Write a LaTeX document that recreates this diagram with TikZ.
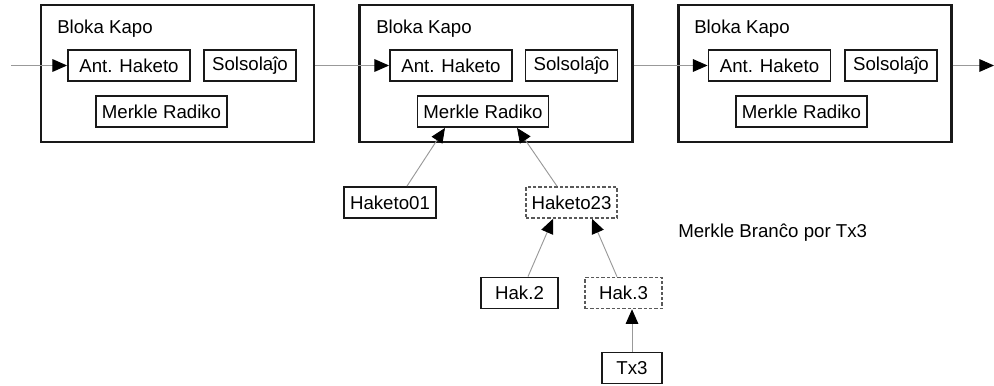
\documentclass[tikz,border=0pt]{standalone}
\usepackage{fontspec}
\setmainfont{Liberation Sans}
\usetikzlibrary{arrows.meta,calc}
\begin{document}
\begin{tikzpicture}[x=0.75pt,y=-0.75pt,
  font=\fontsize{14}{16}\selectfont,
  outer/.style={draw=black!90,line width=1.6pt,inner sep=0pt,minimum width=273*0.75pt,minimum height=137*0.75pt},
  inner/.style={draw=black!90,line width=1.4pt,inner sep=0pt,minimum height=31*0.75pt},
  dbox/.style={draw=black!65,dashed,dash pattern=on 2.5pt off 1.5pt,line width=1.2pt,inner sep=0pt,minimum height=31*0.75pt},
  ttl/.style={anchor=west,inner sep=0pt},
  conn/.style={draw=black!40,line width=0.7pt,-{Triangle[length=11pt,width=9.5pt,color=black]}},
  plain/.style={draw=black!40,line width=0.6pt}]
\useasboundingbox (0,0) rectangle (994,385);
% blocks
\node[outer] (b1) at (177.5,73.5) {};
\node[outer] (b2) at (496,73.5) {};
\node[outer] (b3) at (815,73.5) {};
\node[ttl] (t1) at (57,29) {Bloka Kapo};
\node[ttl] (t2) at (376,29) {Bloka Kapo};
\node[ttl] (t3) at (694,29) {Bloka Kapo};
% inner boxes
\node[inner,minimum width=122*0.75pt] (a1) at (129,65.5) {Ant. Haketo};
\node[inner,minimum width=92*0.75pt] (s1) at (250,65.5) {Solsolaĵo};
\node[inner,minimum width=131*0.75pt] (m1) at (161.5,111.5) {Merkle Radiko};
\node[inner,minimum width=122*0.75pt] (a2) at (451,65.5) {Ant. Haketo};
\node[inner,minimum width=92*0.75pt] (s2) at (571.5,65.5) {Solsolaĵo};
\node[inner,minimum width=131*0.75pt] (m2) at (483,111.5) {Merkle Radiko};
\node[inner,minimum width=122*0.75pt] (a3) at (769.5,65.5) {Ant. Haketo};
\node[inner,minimum width=92*0.75pt] (s3) at (891,65.5) {Solsolaĵo};
\node[inner,minimum width=131*0.75pt] (m3) at (801.5,111.5) {Merkle Radiko};
% tree
\node[inner,minimum width=92*0.75pt] (h01) at (390,202.5) {Haketo01};
\node[dbox,minimum width=91*0.75pt] (h23) at (571.5,202.5) {Haketo23};
\node[inner,minimum width=77*0.75pt] (k2) at (519.5,293) {Hak.2};
\node[dbox,minimum width=77*0.75pt] (k3) at (623.5,293) {Hak.3};
\node[inner,minimum width=60*0.75pt] (tx) at (632,368) {Tx3};
\node[ttl] (lbl) at (678,233) {Merkle Branĉo por Tx3};
% chain
\coordinate (start) at (11,65.5);
\coordinate (end) at (994,65.5);
\draw[conn] (start) -- (a1.west);
\draw[conn] (b1.east |- a1.west) -- (a2.west);
\draw[conn] (b2.east |- a2.west) -- (a3.west);
\draw[conn] (b3.east |- a3.west) -- (end);
% tree connectors
\draw[conn] ($(h01.north)+(17,0)$) -- ($(m2.south)+(-38,0)$);
\draw[conn] ($(h23.north)+(-14.5,0)$) -- ($(m2.south)+(34,0)$);
\draw[conn] ($(k2.north)+(8.5,0)$) -- ($(h23.south)+(-18.5,0)$);
\draw[conn] ($(k3.north)+(-6.5,0)$) -- ($(h23.south)+(20.5,0)$);
\draw[conn] (tx.north) -- (tx.north |- k3.south);
\end{tikzpicture}
\end{document}
